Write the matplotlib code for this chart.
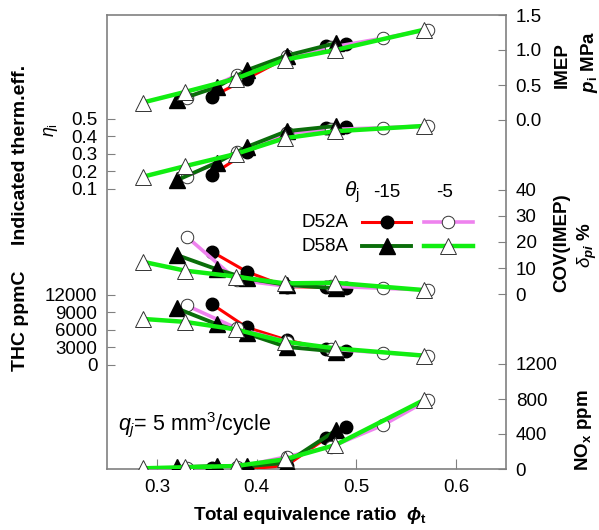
import matplotlib
matplotlib.use('Agg')
import matplotlib.pyplot as plt

plt.rcParams['font.family'] = ['Liberation Sans', 'DejaVu Sans']
plt.rcParams['mathtext.fontset'] = 'custom'
plt.rcParams['mathtext.rm'] = 'Liberation Sans'
plt.rcParams['mathtext.it'] = 'Liberation Sans:italic'
plt.rcParams['mathtext.bf'] = 'Liberation Sans:bold'
plt.rcParams['mathtext.bfit'] = 'Liberation Sans:italic:bold'

# total equivalence ratio of each run
phi_52_m15 = [0.355, 0.39, 0.43, 0.47, 0.49]
phi_52_m5 = [0.33, 0.38, 0.43, 0.475, 0.527, 0.572]
phi_58_m15 = [0.32, 0.36, 0.39, 0.43, 0.48]
phi_58_m5 = [0.286, 0.328, 0.379, 0.428, 0.479, 0.568]

# IMEP MPa
imep_52_m15 = [0.33, 0.59, 0.89, 1.06, 1.08]
imep_52_m5 = [0.31, 0.64, 0.92, 1.04, 1.17, 1.29]
imep_58_m15 = [0.28, 0.47, 0.71, 0.92, 1.10]
imep_58_m5 = [0.25, 0.40, 0.59, 0.86, 1.00, 1.29]

# indicated thermal efficiency
eta_52_m15 = [0.18, 0.31, 0.42, 0.45, 0.455]
eta_52_m5 = [0.17, 0.31, 0.42, 0.44, 0.45, 0.46]
eta_58_m15 = [0.15, 0.25, 0.34, 0.43, 0.46]
eta_58_m5 = [0.17, 0.23, 0.30, 0.39, 0.43, 0.46]

# COV(IMEP) %
cov_52_m15 = [16.3, 8.6, 2.8, 2.6, 2.2]
cov_52_m5 = [22, 5.4, 3.0, 3.0, 2.2, 1.5]
cov_58_m15 = [15, 9.5, 6.0, 3.5, 2.2]
cov_58_m5 = [12.4, 9.0, 6.7, 4.1, 4.3, 1.5]

# THC ppmC
thc_52_m15 = [10450, 6450, 4300, 2700, 2450]
thc_52_m5 = [10200, 6300, 4000, 2700, 2100, 1600]
thc_58_m15 = [9700, 7000, 5400, 3100, 2300]
thc_58_m5 = [7900, 7400, 6100, 4000, 2850, 1600]

# NOx ppm
nox_52_m15 = [8, 0, 40, 354, 477]
nox_52_m5 = [8, 20, 140, 255, 503, 790]
nox_58_m15 = [20, 34, 30, 72, 446]
nox_58_m5 = [8, 20, 34, 110, 274, 790]

red = '#ff0000'
violet = '#ee82ee'
dkgreen = '#0a6e0a'
lime = '#11ee11'
grey = '#808080'

styles = [
    dict(color=red, lw=2.2, marker='o', ms=9, mfc='black', mec='black'),
    dict(color=violet, lw=2.6, marker='o', ms=9, mfc='white', mec='#333333', mew=0.7),
    dict(color=dkgreen, lw=2.8, marker='^', ms=11, mfc='black', mec='black'),
    dict(color=lime, lw=3.2, marker='^', ms=11, mfc='white', mec='#333333', mew=0.7),
]
phis = [phi_52_m15, phi_52_m5, phi_58_m15, phi_58_m5]

fig = plt.figure(figsize=(5.99, 5.30), dpi=100)
ax = fig.add_axes([107/599, 61/530, 399/599, 454/530])
ax.set_xlim(0.25, 0.65)
ax.set_xticks([0.3, 0.4, 0.5, 0.6])
ax.set_xticklabels(['0.3', '0.4', '0.5', '0.6'])
ax.set_yticks([])
ax.tick_params(axis='x', direction='in', length=7, color=grey, labelsize=13.5, pad=7)
for s in ax.spines.values():
    s.set_color(grey)
    s.set_linewidth(1.2)


def panel(ylim, ticks, labels, side, series):
    a = ax.twinx()
    a.set_ylim(*ylim)
    a.set_yticks(ticks)
    a.set_yticklabels(labels)
    a.yaxis.set_ticks_position(side)
    a.tick_params(axis='y', direction='in', length=6, color=grey,
                  labelsize=13.5, pad=7)
    for s in a.spines.values():
        s.set_visible(False)
    for x, y, st in zip(phis, series, styles):
        a.plot(x, y, **st)
    return a


panel((1.5 - 454/70, 1.5), [0, 0.5, 1.0, 1.5], ['0.0', '0.5', '1.0', '1.5'], 'right',
      [imep_52_m15, imep_52_m5, imep_58_m15, imep_58_m5])
panel((-1.5, 1.094), [0.1, 0.2, 0.3, 0.4, 0.5], ['0.1', '0.2', '0.3', '0.4', '0.5'], 'left',
      [eta_52_m15, eta_52_m5, eta_58_m15, eta_58_m5])
panel((-67.3, 107.3), [0, 10, 20, 30, 40], ['0', '10', '20', '30', '40'], 'right',
      [cov_52_m15, cov_52_m5, cov_58_m15, cov_58_m5])
panel((-17829, 60000), [0, 3000, 6000, 9000, 12000], ['0', '3000', '6000', '9000', '12000'], 'left',
      [thc_52_m15, thc_52_m5, thc_58_m15, thc_58_m5])
top = panel((0, 454/35*400), [0, 400, 800, 1200], ['0', '400', '800', '1200'], 'right',
            [nox_52_m15, nox_52_m5, nox_58_m15, nox_58_m5])

# legend
tr = top.transAxes
top.text(0.614, 0.61, r'$\theta_\mathrm{j}$', transform=tr, fontsize=15, ha='center', va='center')
top.text(0.702, 0.61, '-15', transform=tr, fontsize=13.5, ha='center', va='center')
top.text(0.845, 0.61, '-5', transform=tr, fontsize=13.5, ha='center', va='center')
top.text(0.487, 0.544, 'D52A', transform=tr, fontsize=13.5, ha='left', va='center')
top.text(0.487, 0.491, 'D58A', transform=tr, fontsize=13.5, ha='left', va='center')
for (x0, x1, xm, y), st in zip([(0.639, 0.762, 0.702, 0.544), (0.794, 0.917, 0.855, 0.544),
                                 (0.639, 0.762, 0.702, 0.491), (0.794, 0.917, 0.855, 0.491)], styles):
    top.plot([x0, x1], [y, y], transform=tr, color=st['color'], lw=st['lw'], clip_on=False)
    top.plot([xm], [y], transform=tr, linestyle='none', marker=st['marker'], ms=st['ms'],
             mfc=st['mfc'], mec=st['mec'], mew=st.get('mew', 1.0), clip_on=False)

top.text(0.028, 0.097, r'$q_j$= 5 mm$^3$/cycle', transform=tr, fontsize=15.5, ha='left', va='center')

# axis titles
fig.text(310/599, 1 - 515/530, r'Total equivalence ratio  $\boldsymbol{\phi}_\mathbf{t}$',
         fontsize=13.5, fontweight='bold', ha='center', va='center')
fig.text(21/599, 1 - 155/530, 'Indicated therm.eff.', rotation=90, fontsize=14,
         fontweight='bold', ha='center', va='center')
fig.text(51/599, 1 - 130/530, r'$\eta_\mathrm{i}$', rotation=90, fontsize=13,
         ha='center', va='center')
fig.text(21/599, 1 - 321/530, 'THC ppmC', rotation=90, fontsize=14,
         fontweight='bold', ha='center', va='center')
fig.text(562/599, 1 - 65/530, 'IMEP', rotation=90, fontsize=13.5,
         fontweight='bold', ha='center', va='center')
fig.text(589/599, 1 - 62/530, r'$\boldsymbol{p}_\mathbf{i}$ MPa', rotation=90, fontsize=13.5,
         fontweight='bold', ha='center', va='center')
fig.text(562/599, 1 - 243/530, 'COV(IMEP)', rotation=90, fontsize=13.5,
         fontweight='bold', ha='center', va='center')
fig.text(587/599, 1 - 245/530, r'$\delta_{\boldsymbol{pi}}$ %', rotation=90, fontsize=13.5,
         fontweight='bold', ha='center', va='center')
fig.text(583/599, 1 - 430/530, r'NO$_\mathbf{x}$ ppm', rotation=90, fontsize=13.5,
         fontweight='bold', ha='center', va='center')

fig.savefig('out.png', dpi=100)
